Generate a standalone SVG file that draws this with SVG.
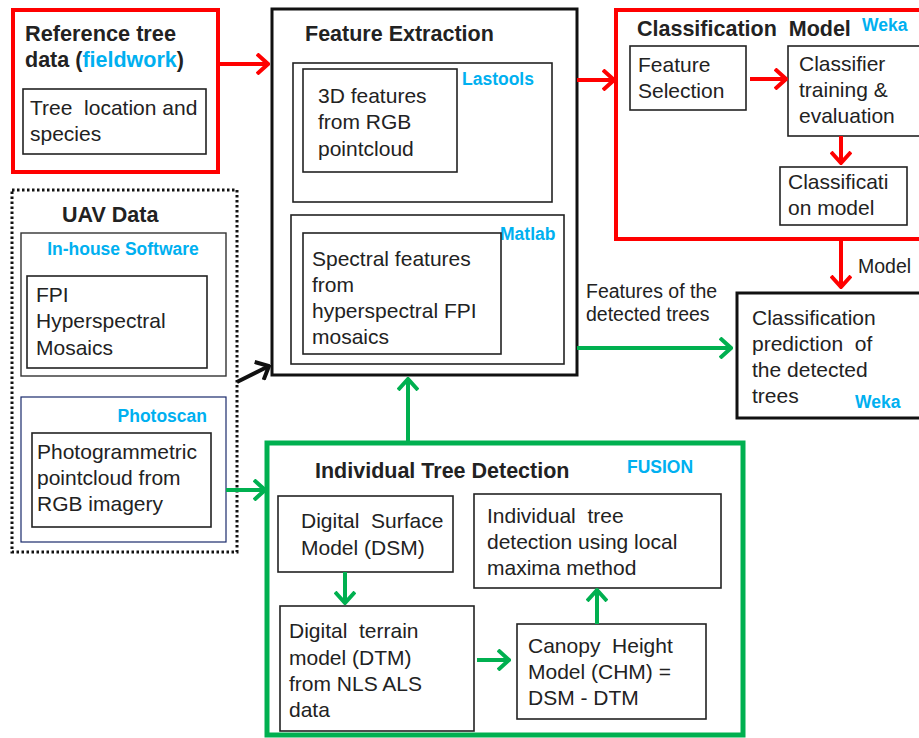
<svg xmlns="http://www.w3.org/2000/svg" width="919" height="738" viewBox="0 0 919 738">
<defs>
<style>
text{font-family:"Liberation Sans",Arial,sans-serif;font-size:21px;fill:#222;white-space:pre}
.b{font-weight:bold;fill:#222;font-size:21.5px}
.c{font-weight:bold;fill:#00B0F0;font-size:17.5px}
.lbl{font-size:19.5px}
.box{fill:none;stroke:#222;stroke-width:1.6}
.red{fill:none;stroke:#f00;stroke-width:4}
.grn{fill:none;stroke:#00B050;stroke-width:4}
</style>
<marker id="mr" viewBox="0 0 14 22" refX="12" refY="11" markerWidth="14" markerHeight="22" orient="auto" markerUnits="userSpaceOnUse"><path d="M1,1 L12,11 L1,21" fill="none" stroke="#f00" stroke-width="4"/></marker>
<marker id="mg" viewBox="0 0 14 22" refX="12" refY="11" markerWidth="14" markerHeight="22" orient="auto" markerUnits="userSpaceOnUse"><path d="M1,1 L12,11 L1,21" fill="none" stroke="#00B050" stroke-width="4"/></marker>
<marker id="mk" viewBox="0 0 14 22" refX="12" refY="11" markerWidth="14" markerHeight="22" orient="auto" markerUnits="userSpaceOnUse"><path d="M1,1 L12,11 L1,21" fill="none" stroke="#111" stroke-width="4"/></marker>
</defs>
<rect width="919" height="738" fill="#fff"/>

<g id="reference">
<rect x="13" y="10" width="205" height="162" class="red"/>
<text x="25" y="41" class="b" textLength="151" lengthAdjust="spacingAndGlyphs">Reference tree</text>
<text x="25" y="67" class="b" textLength="159" lengthAdjust="spacingAndGlyphs">data (<tspan fill="#00B0F0">fieldwork</tspan>)</text>
<rect x="23" y="89" width="183" height="65" class="box"/>
<text x="30" y="115">Tree  location and</text>
<text x="30" y="141">species</text>
</g>

<g id="uav">
<rect x="12" y="190" width="225" height="362" fill="none" stroke="#111" stroke-width="3" stroke-dasharray="2.5,2.5"/>
<text x="62" y="222" class="b">UAV Data</text>
<rect x="21" y="233" width="205" height="143" fill="none" stroke="#333" stroke-width="1.4"/>
<text x="123" y="255" class="c" text-anchor="middle">In-house Software</text>
<rect x="27" y="276" width="180" height="92" class="box"/>
<text x="36" y="302">FPI</text>
<text x="36" y="328">Hyperspectral</text>
<text x="36" y="355">Mosaics</text>
<rect x="21" y="397" width="205" height="145" fill="none" stroke="#1a2a6c" stroke-width="1.2"/>
<text x="207" y="422" class="c" text-anchor="end">Photoscan</text>
<rect x="32" y="433" width="179" height="94" class="box"/>
<text x="37" y="459">Photogrammetric</text>
<text x="37" y="485">pointcloud from</text>
<text x="37" y="511">RGB imagery</text>
</g>

<g id="feature-extraction">
<rect x="272" y="9" width="305" height="366" fill="none" stroke="#111" stroke-width="3"/>
<text x="305" y="41" class="b">Feature Extraction</text>
<rect x="293" y="63" width="259" height="139" class="box"/>
<text x="462" y="85" class="c">Lastools</text>
<rect x="303" y="69" width="154" height="103" class="box"/>
<text x="318" y="103">3D features</text>
<text x="318" y="129">from RGB</text>
<text x="318" y="156">pointcloud</text>
<rect x="291" y="215" width="273" height="149" class="box"/>
<text x="500" y="240" class="c">Matlab</text>
<rect x="303" y="233" width="198" height="121" class="box"/>
<text x="312" y="266">Spectral features</text>
<text x="312" y="292">from</text>
<text x="312" y="318">hyperspectral FPI</text>
<text x="312" y="344">mosaics</text>
</g>

<g id="classification-model">
<rect x="616" y="10" width="310" height="229" class="red"/>
<text x="637" y="36" class="b" font-size="21px">Classification  Model</text>
<text x="862" y="31" class="c" font-size="18.5px">Weka</text>
<rect x="630" y="46" width="116" height="64" class="box"/>
<text x="638" y="72">Feature</text>
<text x="638" y="98">Selection</text>
<rect x="788" y="46" width="140" height="90" class="box"/>
<text x="799" y="71">Classifier</text>
<text x="799" y="97">training &amp;</text>
<text x="799" y="123">evaluation</text>
<rect x="780" y="167" width="127" height="58" class="box"/>
<text x="788" y="189">Classificati</text>
<text x="788" y="215">on model</text>
</g>

<g id="prediction">
<rect x="737" y="293" width="185" height="125" fill="none" stroke="#111" stroke-width="3"/>
<text x="752" y="325">Classification</text>
<text x="752" y="351">prediction  of</text>
<text x="752" y="377">the detected</text>
<text x="752" y="403">trees</text>
<text x="855" y="408" class="c" font-size="18.5px">Weka</text>
</g>

<g id="tree-detection">
<rect x="267" y="443" width="476" height="292" fill="none" stroke="#00B050" stroke-width="5"/>
<text x="315" y="478" class="b">Individual Tree Detection</text>
<text x="627" y="473" class="c" font-size="16px">FUSION</text>
<rect x="278" y="496" width="175" height="76" class="box"/>
<text x="301" y="528">Digital  Surface</text>
<text x="301" y="555">Model (DSM)</text>
<rect x="280" y="606" width="194" height="125" class="box"/>
<text x="289" y="638">Digital  terrain</text>
<text x="289" y="665">model (DTM)</text>
<text x="289" y="691">from NLS ALS</text>
<text x="289" y="717">data</text>
<rect x="517" y="624" width="189" height="95" class="box"/>
<text x="528" y="653">Canopy  Height</text>
<text x="528" y="679">Model (CHM) =</text>
<text x="528" y="705">DSM - DTM</text>
<rect x="474" y="494" width="247" height="94" class="box"/>
<text x="487" y="523">Individual  tree</text>
<text x="487" y="549">detection using local</text>
<text x="487" y="575">maxima method</text>
</g>

<g id="connectors">
<line x1="218" y1="64" x2="268" y2="64" class="red" marker-end="url(#mr)"/>
<line x1="577" y1="80" x2="614" y2="80" class="red" marker-end="url(#mr)"/>
<line x1="750" y1="79" x2="786" y2="79" class="red" marker-end="url(#mr)"/>
<line x1="841" y1="136" x2="841" y2="163" class="red" marker-end="url(#mr)"/>
<line x1="841" y1="239" x2="841" y2="287" class="red" marker-end="url(#mr)"/>
<text x="858" y="273" class="lbl">Model</text>
<line x1="237" y1="382" x2="269" y2="366" stroke="#111" stroke-width="4" marker-end="url(#mk)"/>
<line x1="226" y1="490" x2="265" y2="490" class="grn" marker-end="url(#mg)"/>
<line x1="408" y1="441" x2="408" y2="379" class="grn" marker-end="url(#mg)"/>
<line x1="577" y1="348" x2="731" y2="348" class="grn" marker-end="url(#mg)"/>
<text x="586" y="298" class="lbl">Features of the</text>
<text x="586" y="321" class="lbl">detected trees</text>
<line x1="345" y1="572" x2="345" y2="603" class="grn" stroke-width="3" marker-end="url(#mg)"/>
<line x1="477" y1="660" x2="509" y2="660" class="grn" stroke-width="3" marker-end="url(#mg)"/>
<line x1="597" y1="624" x2="597" y2="590" class="grn" stroke-width="3" marker-end="url(#mg)"/>
</g>
</svg>
